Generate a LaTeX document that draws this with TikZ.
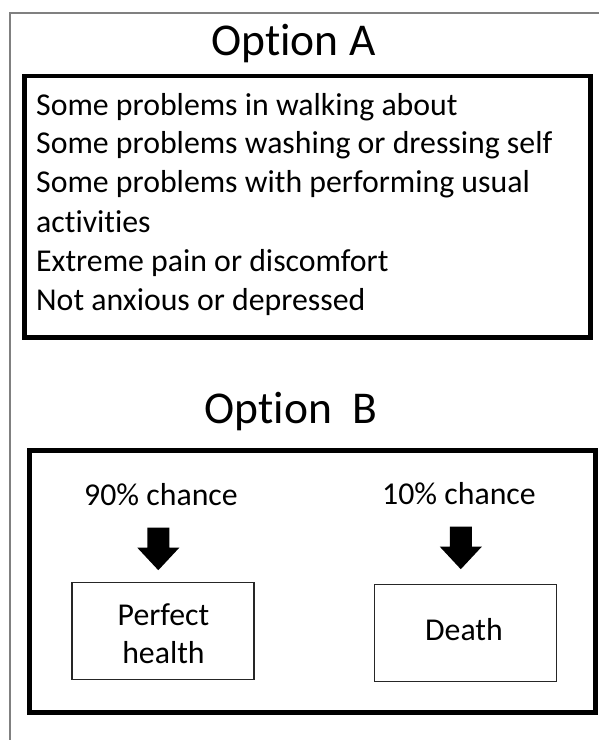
\documentclass[tikz,border=0pt]{standalone}
\usepackage{fontspec}
\setmainfont[Ligatures=NoCommon]{Carlito}
\begin{document}
\begin{tikzpicture}[x=1pt,y=-1pt,
  bigbox/.style={draw=black,line width=4.8pt},
  smallbox/.style={draw=black!85,line width=1.1pt,minimum width=182pt,minimum height=97pt,inner sep=0pt},
  titletext/.style={font=\fontsize{45.5}{52}\selectfont,inner sep=0pt,anchor=base},
  bodytext/.style={font=\fontsize{31.8}{38}\selectfont,inner sep=0pt,anchor=base west},
  labeltext/.style={font=\fontsize{31.8}{38}\selectfont,inner sep=0pt,anchor=base},
  blockarrow/.pic={\fill[black] (-11,0) -- (11,0) -- (11,20) -- (21,20) -- (0,42.5) -- (-21,20) -- (-11,20) -- cycle;}
]
\useasboundingbox (0,0) rectangle (598,740);
\fill[white] (0,0) rectangle (598,740);
% outer frame
\draw[black!50,line width=1.2pt] (10,741) coordinate (fb) -- (10,13) coordinate (fc) -- (599,13) coordinate (fr);

% Option A
\node[titletext] (ta) at (293.5,55) {Option A};
\draw[bigbox] (24.5,76) coordinate (a1) rectangle (590.5,337.5) coordinate (a2);
\node[bodytext] (l1) at (36,115) {Some problems in walking about};
\node[bodytext] (l2) at (36,153.5) {Some problems washing or dressing self};
\node[bodytext] (l3) at (36,192.5) {Some problems with performing usual};
\node[bodytext] (l4) at (36,232) {activities};
\node[bodytext] (l5) at (36,271.5) {Extreme pain or discomfort};
\node[bodytext] (l6) at (36,310.5) {Not anxious or depressed};

% Option B
\node[titletext] (tb) at (291,423) {Option\ \ B};
\draw[bigbox] (29.5,450.5) coordinate (b1) rectangle (595.5,712.5) coordinate (b2);

\node[labeltext] (p90) at (161,505) {90\% chance};
\node[labeltext] (p10) at (459,504) {10\% chance};

\pic at (158.3,527.7) {blockarrow};
\pic at (460.8,526.7) {blockarrow};

\node[smallbox] (ph) at (163,631.2) {};
\node[labeltext] (ph1) at (163.5,625) {Perfect};
\node[labeltext] (ph2) at (163.5,663.5) {health};

\node[smallbox] (de) at (465.8,633.3) {};
\node[labeltext] (de1) at (464,640) {Death};
\end{tikzpicture}
\end{document}
